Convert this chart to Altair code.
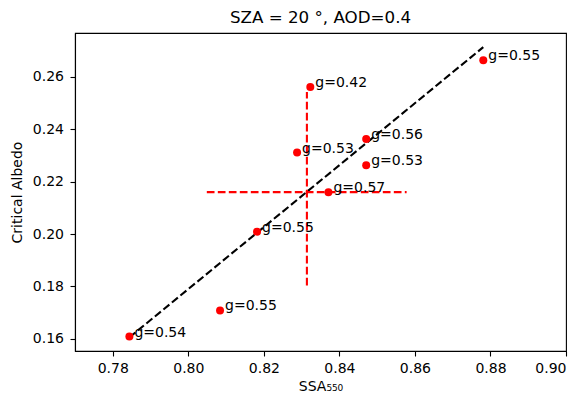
import altair as alt
import pandas as pd

# Scatter data
ssa = [0.7844, 0.8084, 0.8182, 0.8288, 0.8323, 0.8371, 0.8471, 0.8471, 0.8781]
albedo = [0.1608, 0.1708, 0.2009, 0.2311, 0.2562, 0.2160, 0.2363, 0.2263, 0.2664]
g_labels = ["g=0.54", "g=0.55", "g=0.55", "g=0.53", "g=0.42", "g=0.57", "g=0.56", "g=0.53", "g=0.55"]

# Black dashed fit line endpoints
fit_x = [0.7844, 0.8781]
fit_y = [0.1605, 0.2714]

# Red dashed cross (mean +/- spread)
cross_h_x = [0.8049, 0.8578]
cross_h_y = [0.2160, 0.2160]
cross_v_x = [0.8314, 0.8314]
cross_v_y = [0.1803, 0.2543]

x_ticks = [0.78, 0.80, 0.82, 0.84, 0.86, 0.88, 0.90]
y_ticks = [0.16, 0.18, 0.20, 0.22, 0.24, 0.26]
x_domain = [0.77, 0.90]
y_domain = [0.1553, 0.2768]

FONT = "DejaVu Sans"

pts = pd.DataFrame({"ssa": ssa, "albedo": albedo, "g": g_labels})
fit = pd.DataFrame({"ssa": fit_x, "albedo": fit_y})
ch = pd.DataFrame({"ssa": cross_h_x, "albedo": cross_h_y})
cv = pd.DataFrame({"ssa": cross_v_x, "albedo": cross_v_y})

xs = alt.Scale(domain=x_domain, nice=False, zero=False)
ys = alt.Scale(domain=y_domain, nice=False, zero=False)

X = alt.X("ssa:Q", scale=xs, title="SSA₅₅₀",
          axis=alt.Axis(values=x_ticks, format=".2f", titlePadding=4, labelPadding=5))
Y = alt.Y("albedo:Q", scale=ys, title="Critical Albedo",
          axis=alt.Axis(values=y_ticks, format=".2f", titlePadding=8, labelPadding=6.5))

dash = [7.7, 3.3]

fit_line = alt.Chart(fit).mark_line(color="black", strokeWidth=2.1, strokeDash=dash).encode(x=X, y=Y)
h_line = alt.Chart(ch).mark_line(color="#ff0000", strokeWidth=2.1, strokeDash=dash).encode(x=X, y=Y)
v_line = alt.Chart(cv).mark_line(color="#ff0000", strokeWidth=2.1, strokeDash=dash).encode(x=X, y=Y)
points = alt.Chart(pts).mark_circle(color="#ff0000", opacity=1, size=64).encode(x=X, y=Y)
labels = alt.Chart(pts).mark_text(align="left", baseline="alphabetic", dx=5, fontSize=14,
                                  font=FONT, color="black").encode(x=X, y=Y, text="g:N")

chart = alt.layer(fit_line, h_line, v_line, points, labels).properties(
    width=491,
    height=318,
    background="white",
    autosize=alt.AutoSizeParams(type="none"),
    padding={"left": 67, "top": 25, "right": 5, "bottom": 45},
    title=alt.TitleParams(text="SZA = 20 °, AOD=0.4", font=FONT, fontSize=16.7,
                          fontWeight="normal", color="black", anchor="middle",
                          offset=6),
).configure_view(
    stroke="black", strokeWidth=1.1
).configure_axis(
    grid=False,
    domainColor="black", domainWidth=1.1,
    tickColor="black", tickWidth=1.1, tickSize=5,
    labelFont=FONT, labelFontSize=14, labelColor="black", labelPadding=4,
    titleFont=FONT, titleFontSize=14, titleFontWeight="normal", titleColor="black",
)

chart.save("out.html", embed_options={"renderer": "svg", "actions": False})
